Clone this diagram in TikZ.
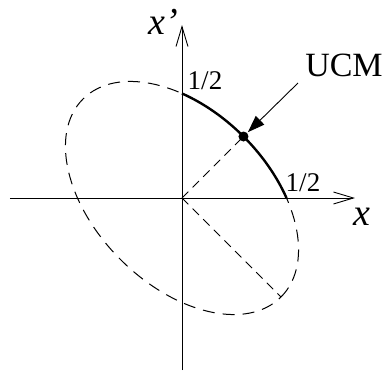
\documentclass[tikz,border=0pt]{standalone}
\usepackage{fontspec}
\setmainfont{Liberation Serif}
\usetikzlibrary{positioning, arrows.meta}
\newcommand{\axisfont}{\fontsize{38}{40}\selectfont\itshape}
\newcommand{\halffont}{\fontsize{27}{29}\selectfont}
\newcommand{\ucmfont}{\fontsize{34}{36}\selectfont}

\begin{document}
\begin{tikzpicture}[x=1pt, y=1pt,
    axis/.style={line width=0.9pt, -{Straight Barb[length=20pt, width=12pt, line width=0.9pt]}},
    orbit/.style={line width=1pt, dash pattern=on 12pt off 8pt},
    radius line/.style={line width=0.8pt, dash pattern=on 9pt off 6pt},
    quarter/.style={line width=2.4pt}]
    \useasboundingbox (-182,-178) rectangle (202,198);
    % Axes
    \coordinate (O) at (0,0);
    \coordinate (xleft) at (-172,0);
    \coordinate (xright) at (173,0);
    \coordinate (ybottom) at (0,-172);
    \coordinate (ytop) at (0,173);
    \draw[axis] (xleft) -- (xright);
    \draw[axis] (ybottom) -- (ytop);
    \node[font=\axisfont] (xlabel) at (180,-19) {x};
    \node[font=\axisfont] (yplabel) at (-19,176) {x’};

    % Ellipse and its quarter
    \draw[orbit, rotate=-45] (O) ellipse (140 and 87);
    \draw[quarter, rotate=-45] (58.1:140 and 87) arc[start angle=58.1, end angle=121.9, x radius=140, y radius=87];
    \coordinate (major) at (99,-99);
    \node[circle, fill, inner sep=0pt, minimum size=10pt] (ucm) at (61.5,61.5) {};
    \draw[radius line] (O) -- (ucm.center);
    \draw[radius line] (O) -- (major);

    % Labels
    \node[font=\halffont] (halfy) at (23,117) {1/2};
    \node[font=\halffont] (halfx) at (121,15) {1/2};
    \node[font=\ucmfont, inner sep=1pt] (ucmlabel) at (162,133) {UCM};
    \coordinate (ucmtail) at (116,115);
    \draw[line width=0.9pt, -{Triangle[length=17pt, width=12pt]}, shorten >=1pt] (ucmtail) -- (ucm);
\end{tikzpicture}
\end{document}
